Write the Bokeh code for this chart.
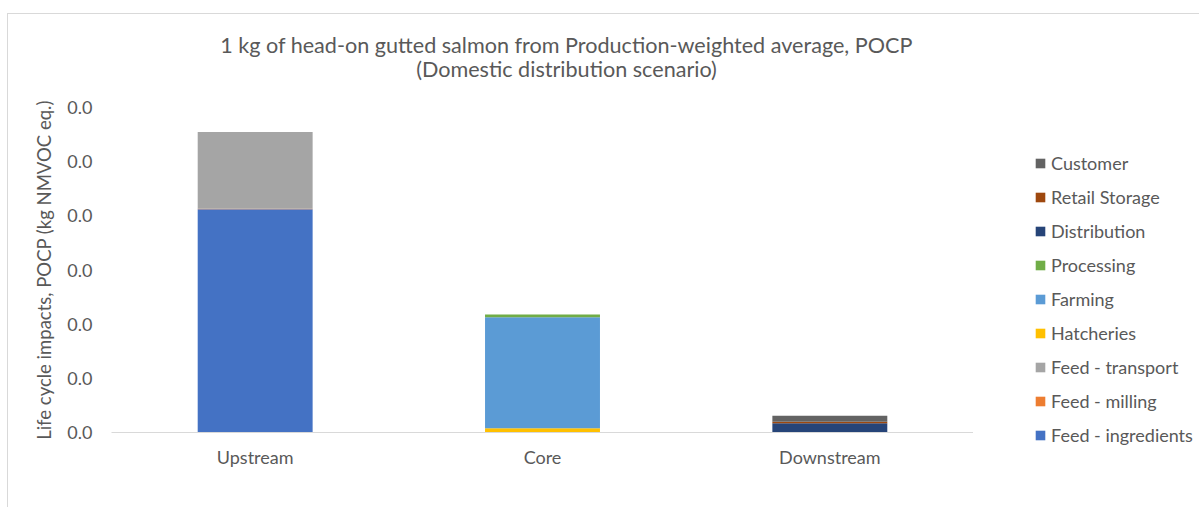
from bokeh.plotting import figure
from bokeh.layouts import column, row
from bokeh.models import (ColumnDataSource, FactorRange, Range1d, FixedTicker,
                          Legend, LegendItem, Label)
from bokeh.embed import file_html
from bokeh.resources import INLINE

# Life cycle stages and their POCP contributions (kg NMVOC eq.)
stages = ["Upstream", "Core", "Downstream"]
feed_ingredients = [0.0412, 0.0, 0.0]
feed_milling = [0.0001, 0.0, 0.0]
feed_transport = [0.0142, 0.0, 0.0]
hatcheries = [0.0, 0.0008, 0.0]
farming = [0.0, 0.0205, 0.0]
processing = [0.0, 0.0005, 0.0]
distribution = [0.0, 0.0, 0.0017]
retail_storage = [0.0, 0.0, 0.0003]
customer = [0.0, 0.0, 0.0011]

series_names = ["Feed - ingredients", "Feed - milling", "Feed - transport",
                "Hatcheries", "Farming", "Processing", "Distribution",
                "Retail Storage", "Customer"]
series_values = [feed_ingredients, feed_milling, feed_transport, hatcheries,
                 farming, processing, distribution, retail_storage, customer]
series_colors = ["#4472C4", "#ED7D31", "#A5A5A5", "#FFC000", "#5B9BD5",
                 "#70AD47", "#264478", "#9E480E", "#636363"]

y_ticks = [0.0, 0.01, 0.02, 0.03, 0.04, 0.05, 0.06]
y_tick_labels = ["0.0", "0.0", "0.0", "0.0", "0.0", "0.0", "0.0"]

title_line1 = "1 kg of head-on gutted salmon from Production-weighted average, POCP"
title_line2 = "(Domestic distribution scenario)"
y_title = "Life cycle impacts, POCP (kg NMVOC eq.)"

FONT = "Lato"
TEXT = "#595959"

data = {"stage": stages}
for name, vals in zip(series_names, series_values):
    data[name] = vals
source = ColumnDataSource(data)


def blank_figure(w, h, x_range=None, y_range=None):
    f = figure(width=w, height=h,
               x_range=x_range if x_range is not None else Range1d(0, 1),
               y_range=y_range if y_range is not None else Range1d(0, 1),
               x_axis_location=None, y_axis_location=None,
               output_backend="svg", toolbar_location=None,
               min_border=0)
    f.outline_line_color = None
    f.grid.grid_line_color = None
    return f


# ---- title strip -------------------------------------------------------
head = blank_figure(1191, 73)
for txt, y in [(title_line1, 43), (title_line2, 19)]:
    head.add_layout(Label(x=558, y=y, x_units="screen", y_units="screen",
                          text=txt, text_align="center",
                          text_baseline="alphabetic", text_font=FONT,
                          text_font_size="21.6px", text_color=TEXT))

# ---- stacked bar chart -------------------------------------------------
p = figure(x_range=FactorRange(*stages, range_padding=0),
           y_range=Range1d(0, 0.06),
           width=965, height=420,
           output_backend="svg", toolbar_location=None,
           min_border_left=103, min_border_right=0,
           min_border_top=20, min_border_bottom=75)
p.outline_line_color = None
p.xgrid.grid_line_color = None
p.ygrid.grid_line_color = None

renderers = p.vbar_stack(series_names, x="stage", width=0.4, source=source,
                         color=series_colors, line_color=None)

p.yaxis.ticker = FixedTicker(ticks=y_ticks)
p.yaxis.major_label_overrides = dict(zip(y_ticks, y_tick_labels))
p.yaxis.axis_line_color = None
p.yaxis.major_tick_line_color = None
p.yaxis.minor_tick_line_color = None
p.yaxis.major_label_text_font = FONT
p.yaxis.major_label_text_font_size = "18px"
p.yaxis.major_label_text_color = TEXT
p.yaxis.major_label_standoff = 13
p.yaxis.axis_label = y_title
p.yaxis.axis_label_text_font = FONT
p.yaxis.axis_label_text_font_size = "18.5px"
p.yaxis.axis_label_text_font_style = "normal"
p.yaxis.axis_label_text_color = TEXT
p.yaxis.axis_label_standoff = 9

p.xaxis.axis_line_color = "#d9d9d9"
p.xaxis.major_tick_line_color = None
p.xaxis.minor_tick_line_color = None
p.xaxis.major_label_text_font = FONT
p.xaxis.major_label_text_font_size = "18px"
p.xaxis.major_label_text_color = TEXT
p.xaxis.major_label_standoff = 7

# ---- legend panel ------------------------------------------------------
# zero-height stacks below the visible range, used only as legend keys
key_source = ColumnDataSource({"stage": [stages[0]],
                               **{n: [0.0] for n in series_names}})
side = blank_figure(226, 420, x_range=FactorRange(*stages),
                    y_range=Range1d(1, 2))
side.frame_align = False
keys = side.vbar_stack(series_names, x="stage", width=0.4, source=key_source,
                       color=series_colors, line_color=None)
items = [LegendItem(label=n, renderers=[r])
         for n, r in zip(series_names, keys)][::-1]
legend = Legend(items=items, location=(61, 61),
                glyph_width=12, glyph_height=12, label_height=12,
                spacing=12, label_standoff=5, padding=0, margin=0,
                border_line_color=None, background_fill_alpha=0,
                label_text_font=FONT, label_text_font_size="18px",
                label_text_color=TEXT)
side.add_layout(legend, "center")

layout = column(head, row(p, side),
                margin=(13, 0, 0, 7),
                styles={"border-left": "1px solid #d9d9d9",
                        "border-top": "1px solid #d9d9d9"})

open("out.html", "w").write(file_html(layout, INLINE))
